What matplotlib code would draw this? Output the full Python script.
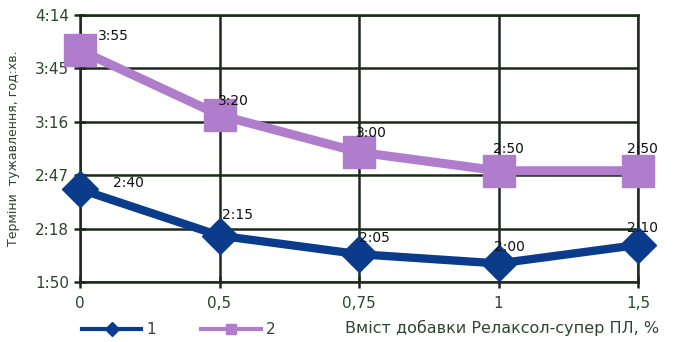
import matplotlib
matplotlib.use("Agg")
import matplotlib.pyplot as plt
from matplotlib.lines import Line2D

categories = ["0", "0,5", "0,75", "1", "1,5"]
series1_min = [160, 135, 125, 120, 130]
series2_min = [235, 200, 180, 170, 170]
series1_labels = ["2:40", "2:15", "2:05", "2:00", "2:10"]
series2_labels = ["3:55", "3:20", "3:00", "2:50", "2:50"]
ytick_vals = [110, 138.8, 167.6, 196.4, 225.2, 254]
ytick_labels = ["1:50", "2:18", "2:47", "3:16", "3:45", "4:14"]

# label offsets in pixels (style only)
off1 = [(48, 6), (18, 21), (15, 16), (11, 16), (4, 17)]
off2 = [(33, 14), (14, 14), (12, 19), (10, 22), (4, 22)]

c1 = "#0b3c8c"
c2 = "#b07ccc"
grid_c = "#1c2a1c"
txt_c = "#2e452e"

fig = plt.figure(figsize=(6.76, 3.42), dpi=100)
ax = fig.add_axes([80/676, 60/342, (638-80)/676, (282-15)/342])
x = list(range(len(categories)))

ax.plot(x, series2_min, color=c2, lw=6.5, marker="s", ms=23, zorder=3)
ax.plot(x, series1_min, color=c1, lw=6, marker="D", ms=18, zorder=3)

for xi, v, lab, o in zip(x, series2_min, series2_labels, off2):
    ax.annotate(lab, (xi, v), xytext=o, textcoords="offset pixels",
                ha="center", va="center", fontsize=10, color="#111111", zorder=4)
for xi, v, lab, o in zip(x, series1_min, series1_labels, off1):
    ax.annotate(lab, (xi, v), xytext=o, textcoords="offset pixels",
                ha="center", va="center", fontsize=10, color="#111111", zorder=4)

ax.set_xlim(0, 4)
ax.set_ylim(110, 254)
ax.set_xticks(x)
ax.set_xticklabels(categories)
ax.set_yticks(ytick_vals)
ax.set_yticklabels(ytick_labels)
ax.grid(True, color=grid_c, lw=1.8, zorder=1)
for s in ax.spines.values():
    s.set_color(grid_c)
    s.set_linewidth(1.8)
ax.tick_params(axis="both", direction="inout", length=8, width=1.8, color=grid_c,
               labelsize=11, labelcolor=txt_c)
ax.tick_params(axis="x", pad=6)
ax.tick_params(axis="y", pad=4)
ax.set_ylabel("Терміни  тужавлення, год:хв.", fontsize=9, color=txt_c)
ax.yaxis.set_label_coords(-60/558, 0.5)
for ln in ax.lines:
    ln.set_clip_on(False)

h1 = Line2D([], [], color=c1, lw=3, marker="D", ms=7)
h2 = Line2D([], [], color=c2, lw=3, marker="s", ms=7)
fig.legend([h1, h2], ["1", "2"], loc="center left", bbox_to_anchor=(68/676, 1 - 330/342),
           ncol=2, frameon=False, fontsize=11, handlelength=3.9, columnspacing=3.0,
           handletextpad=0.3, labelcolor=txt_c)
fig.text(345/676, 1 - 328/342, "Вміст добавки Релаксол-супер ПЛ, %", fontsize=11.5,
         color=txt_c, va="center", ha="left")

fig.savefig("out.png", dpi=100)
